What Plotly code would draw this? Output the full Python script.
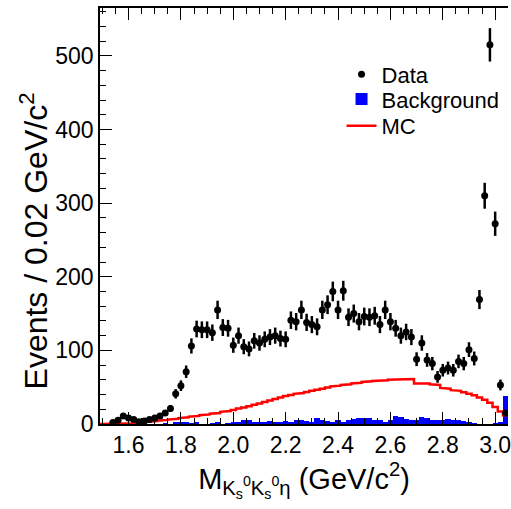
import numpy as np
import plotly.graph_objects as go

# bin centres (GeV/c^2), 0.02 wide
mass = [round(1.50 + 0.02 * i, 2) for i in range(78)]

data_counts = [
    0, 0, 2, 5, 11, 8, 6, 3, 4, 6,        # 1.50-1.68
    8, 11, 15, 21, 41, 52, 71, 106, 129, 128,  # 1.70-1.88
    128, 124, 155, 131, 130, 107, 120, 105, 102, 113,  # 1.90-2.08
    110, 115, 118, 120, 116, 115, 141, 139, 155, 138,  # 2.10-2.28
    135, 132, 155, 162, 180, 155, 181, 145, 150, 139,  # 2.30-2.48
    146, 145, 147, 135, 155, 139, 130, 120, 125, 118,  # 2.50-2.68
    88, 110, 87, 82, 64, 73, 76, 73, 85, 82,           # 2.70-2.88
    101, 89, 169, 310, 515, 272, 53, 15                # 2.90-3.04
]

background = [
    0, 0, 0, 0, 0, -1, -1, -2, -1, -2,
    -1, 0, 1, -1, 2, 3, 2, 1, 2, 0,
    -1, 1, 2, 0, 1, 2, 3, 5, 6, 3,
    3, 2, 4, 3, 3, 4, 3, 6, 5, 4,
    3, 8, 6, 4, 3, 5, 3, 6, 7, 8,
    8, 8, 6, 6, 3, 5, 11, 9, 7, 6,
    6, 10, 8, 6, 5, 6, 7, 5, 6, 4,
    3, 1, -1, -2, 0, 1, 3, 38
]

mc = [
    0, 0, 0, 0, 0, 0.5, 1, 1.5, 2.5, 3,
    4, 4.5, 5.5, 6, 7, 8, 9, 10, 11, 12,
    13, 14, 15, 16.5, 17.5, 19, 21, 22.5, 24, 26,
    28, 30, 32, 34, 36, 38, 39.5, 41, 42, 43.5,
    45, 46.5, 48, 49.5, 51, 52, 53, 54, 55, 56,
    57, 58, 58.5, 59, 59.5, 60, 60.5, 61, 61, 61,
    55, 55.5, 55, 54, 53, 49, 48, 46, 45, 43,
    41, 39, 36, 33, 29, 23, 17, 12
]

x_ticks = [1.6, 1.8, 2.0, 2.2, 2.4, 2.6, 2.8, 3.0]
y_ticks = [0, 100, 200, 300, 400, 500]

FONT = "Liberation Sans, Arial, sans-serif"
half = 0.01

# step outline for MC histogram built from bin edges
mc_x = []
mc_y = []
for c, v in zip(mass, mc):
    mc_x += [c - half, c + half]
    mc_y += [v, v]

dx = [m for m, n in zip(mass, data_counts) if n > 0]
dy = [n for n in data_counts if n > 0]
derr = [float(np.sqrt(n)) for n in dy]

fig = go.Figure()

fig.add_trace(go.Bar(
    x=mass, y=background, width=0.02, name="Background", legend="legend2",
    marker=dict(color="#0000ff", line=dict(width=0)),
))

fig.add_trace(go.Scatter(
    x=mc_x, y=mc_y, mode="lines", name="MC", legend="legend3",
    line=dict(color="#ff0000", width=2.5),
))

fig.add_trace(go.Scatter(
    x=dx, y=dy, mode="markers", name="Data", legend="legend",
    marker=dict(color="black", size=7, symbol="circle"),
    error_y=dict(type="data", array=derr, color="black", thickness=2.5, width=0),
    error_x=dict(type="constant", value=half, color="black", thickness=1.5, width=0),
))

leg_common = dict(
    x=0.592, xanchor="left", yanchor="top",
    font=dict(family=FONT, size=22, color="black"),
    bgcolor="rgba(0,0,0,0)", itemwidth=30,
)

fig.update_layout(
    width=511, height=509,
    margin=dict(l=100, r=0, t=8, b=85),
    plot_bgcolor="white", paper_bgcolor="white",
    bargap=0,
    showlegend=True,
    legend=dict(y=0.891, **leg_common),
    legend2=dict(y=0.831, **leg_common),
    legend3=dict(y=0.767, **leg_common),
    font=dict(family=FONT, color="black"),
    annotations=[dict(
        text="Events / 0.02 GeV/c<sup>2</sup>",
        xref="paper", yref="paper", x=-0.163, y=0.44,
        xanchor="center", yanchor="middle", textangle=-90,
        showarrow=False, font=dict(family=FONT, size=32, color="black"),
    )],
)

fig.update_xaxes(
    range=[1.491, 3.049],
    tickvals=x_ticks, ticktext=[f"{t:.1f}" for t in x_ticks],
    ticklabeloverflow="allow",
    ticks="inside", ticklen=12, tickwidth=1.2, tickcolor="black",
    minor=dict(dtick=0.05, tick0=1.5, ticks="inside", ticklen=6, tickcolor="black", tickwidth=1.2),
    showline=True, linecolor="black", linewidth=1.5, mirror="ticks",
    showgrid=False, zeroline=False,
    tickfont=dict(family=FONT, size=23, color="black"),
    title=dict(text="M<sub>K<sub>s</sub><sup>0</sup>K<sub>s</sub><sup>0</sup>η</sub> (GeV/c<sup>2</sup>)",
               font=dict(family=FONT, size=29, color="black"), standoff=6),
)

fig.update_yaxes(
    range=[0, 565],
    tickvals=y_ticks,
    ticks="inside", ticklen=12, tickwidth=1.2, tickcolor="black",
    minor=dict(dtick=20, tick0=0, ticks="inside", ticklen=6, tickcolor="black", tickwidth=1.2),
    showline=True, linecolor="black", linewidth=1.5,
    showgrid=False, zeroline=False,
    tickfont=dict(family=FONT, size=23, color="black"),
)

fig.write_html("out.html")
